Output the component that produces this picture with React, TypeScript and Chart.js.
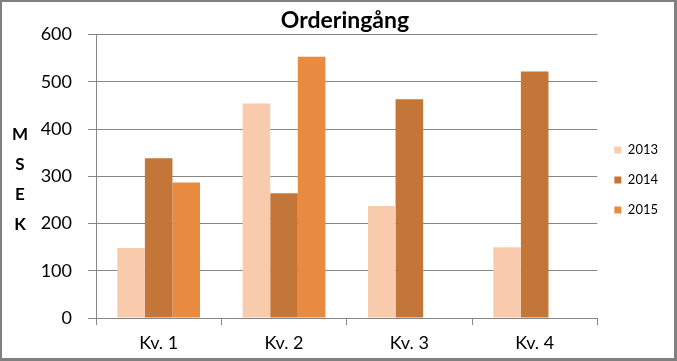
import React, { useEffect, useRef } from 'react';
import { Chart, registerables } from 'chart.js';

Chart.register(...registerables);

const chartTitle = 'Orderingång';
const categories = ['Kv. 1', 'Kv. 2', 'Kv. 3', 'Kv. 4'];
const seriesNames = ['2013', '2014', '2015'];
const values2013 = [148, 454, 237, 150];
const values2014 = [338, 264, 463, 522];
const values2015: (number | null)[] = [287, 553, null, null];
const seriesColors = ['#F8CBAD', '#C47538', '#E88B40'];
const axisTitleLetters = ['M', 'S', 'E', 'K'];
const yMin = 0;
const yMax = 600;
const yStep = 100;

const FONT = 'Lato, "Open Sans", sans-serif';
const GRID = '#868686';

const msekPlugin = {
  id: 'msekTitle',
  afterDraw(chart: any) {
    const { ctx, chartArea } = chart;
    const cy = (chartArea.top + chartArea.bottom) / 2 + 3;
    ctx.save();
    ctx.font = `bold 17px ${FONT}`;
    ctx.fillStyle = '#000';
    ctx.textAlign = 'center';
    ctx.textBaseline = 'middle';
    axisTitleLetters.forEach((ch, i) => {
      ctx.fillText(ch, 18, cy + (i - 1.5) * 30);
    });
    ctx.restore();
  },
};

export default function App() {
  const ref = useRef<HTMLCanvasElement>(null);

  useEffect(() => {
    if (!ref.current) return;
    const data = [values2013, values2014, values2015];
    const chart = new Chart(ref.current, {
      type: 'bar',
      data: {
        labels: categories,
        datasets: seriesNames.map((name, i) => ({
          label: name,
          data: data[i],
          backgroundColor: seriesColors[i],
          borderWidth: 0,
          categoryPercentage: 0.66,
          barPercentage: 1,
        })),
      },
      options: {
        responsive: false,
        animation: false,
        layout: { padding: { left: 20, right: 6, top: 0, bottom: 0 } },
        plugins: {
          title: {
            display: true,
            text: chartTitle,
            color: '#000',
            font: { family: FONT, size: 23, weight: 'bold' },
            padding: { top: 5, bottom: 0 },
          },
          legend: {
            position: 'right',
            labels: {
              boxWidth: 7,
              boxHeight: 7,
              padding: 17,
              color: '#000',
              font: { family: FONT, size: 13 },
            },
          },
          tooltip: { enabled: false },
        },
        scales: {
          x: {
            grid: {
              display: true,
              drawOnChartArea: false,
              drawTicks: true,
              tickLength: 7,
              color: GRID,
              offset: true,
            },
            border: { color: GRID, width: 1 },
            ticks: {
              color: '#000',
              font: { family: FONT, size: 18 },
              padding: 7,
            },
            afterFit(scale: any) {
              scale.height = 40;
            },
          },
          y: {
            min: yMin,
            max: yMax,
            ticks: {
              stepSize: yStep,
              color: '#000',
              font: { family: FONT, size: 18 },
              padding: 16,
            },
            grid: {
              color: GRID,
              tickLength: 8,
            },
            border: { color: GRID, width: 1 },
            afterFit(scale: any) {
              scale.width = 74;
            },
          },
        },
      },
      plugins: [msekPlugin],
    });
    return () => chart.destroy();
  }, []);

  return (
    <div
      style={{
        position: 'absolute',
        left: 0,
        top: 0,
        width: 677,
        height: 361,
        boxSizing: 'border-box',
        borderStyle: 'solid',
        borderColor: '#808080',
        borderWidth: '2px 3px 3px 2px',
        background: '#fff',
      }}
    >
      <canvas ref={ref} width={672} height={356} style={{ display: 'block' }} />
    </div>
  );
}
